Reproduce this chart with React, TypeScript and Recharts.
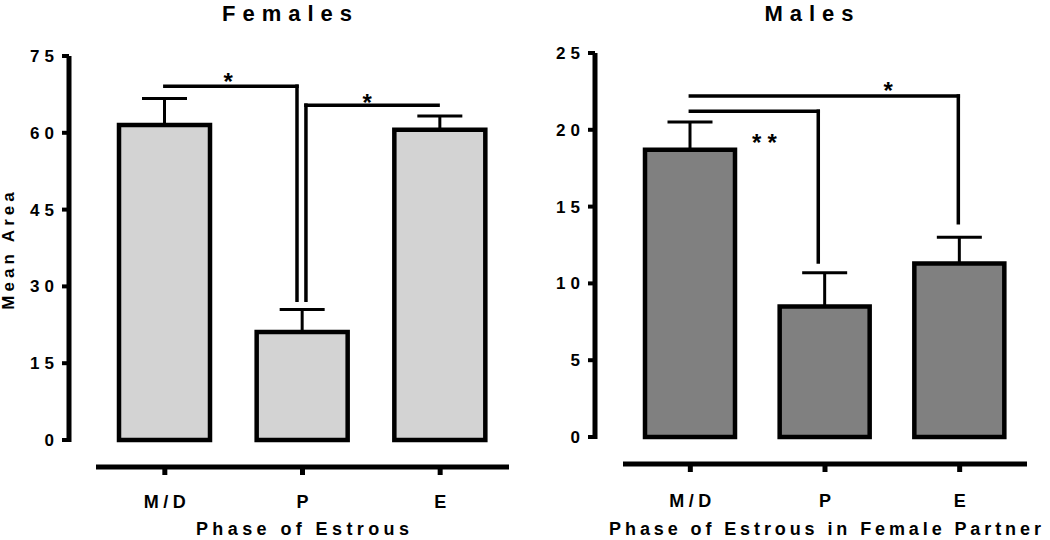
import React from 'react';
import { BarChart, Bar, XAxis, YAxis, ErrorBar, ReferenceLine, ReferenceDot } from 'recharts';

const FONT = '"Liberation Sans", Arial, Helvetica, sans-serif';

// categories
const phaseLabels = ['M/D', 'P', 'E'];
const phaseIndex = [0, 1, 2];

// Females
const femaleMeans = [61.5, 21.1, 60.6];
const femaleErrors = [5.2, 4.4, 2.7];
const femaleTicks = [0, 15, 30, 45, 60, 75];

// Males
const maleMeans = [18.7, 8.5, 11.3];
const maleErrors = [1.8, 2.2, 1.7];
const maleTicks = [0, 5, 10, 15, 20, 25];

// significance brackets (data units): horizontal from start to corner at top, then down to bottom
const femaleBracketStart = [0, 1.985];
const femaleBracketCorner = [0.96, 1.025];
const femaleBracketTop = [69.1, 65.4];
const femaleBracketBottom = [27.3, 27.3];
const femaleStarX = [0.46, 1.47];
const femaleStarY = [71.1, 67.0];
const femaleStarText = ['*', '*'];

const maleBracketStart = [0, 0];
const maleBracketCorner = [0.95, 1.99];
const maleBracketTop = [21.2, 22.2];
const maleBracketBottom = [11.4, 13.95];
const maleStarX = [0.55, 1.47];
const maleStarY = [19.5, 22.9];
const maleStarText = ['**', '*'];

type PanelProps = {
  means: number[];
  errors: number[];
  ticks: number[];
  fill: string;
  bStart: number[];
  bCorner: number[];
  bTop: number[];
  bBottom: number[];
  sX: number[];
  sY: number[];
  sText: string[];
  xTitle: string;
  xTitleLs: number;
  yTitle?: string;
  axisX: number;
  top: number;
  right: number;
  xAxisHeight: number;
  padLeft: number;
  padBottom: number;
  barSize: number;
  tickMargin: number;
};

const YTick = (props: any) => {
  const { x, y, payload } = props;
  return (
    <text x={x} y={y} dy={6} textAnchor="end" fontFamily={FONT} fontWeight="bold" fontSize={17} letterSpacing={5} fill="#000">
      {payload.value}
    </text>
  );
};

const XTick = (props: any) => {
  const { x, y, payload } = props;
  return (
    <text x={x + 2.25} y={y} dy={13} textAnchor="middle" fontFamily={FONT} fontWeight="bold" fontSize={18} letterSpacing={4.5} fill="#000">
      {phaseLabels[payload.value]}
    </text>
  );
};

function Panel(p: PanelProps) {
  const data = phaseIndex.map((i) => ({ idx: i, mean: p.means[i], err: [0, p.errors[i]] }));
  const plotHeight = 540 - p.top - p.xAxisHeight;
  const yLen = plotHeight - p.padBottom + 2;
  return (
    <BarChart width={525} height={540} data={data} margin={{ top: p.top, right: p.right, bottom: 0, left: 0 }}>
      <XAxis
        type="number"
        dataKey="idx"
        domain={[-0.5, 2.5]}
        ticks={phaseIndex}
        interval={0}
        padding={{ left: p.padLeft, right: 0 }}
        height={p.xAxisHeight}
        axisLine={{ stroke: '#000', strokeWidth: 5, strokeDasharray: `0 ${p.padLeft} 2000` }}
        tickLine={{ stroke: '#000', strokeWidth: 5 }}
        tickSize={8}
        tickMargin={p.tickMargin}
        tick={XTick}
        label={(lp: any) => {
          const vb = lp.viewBox || {};
          const cx = vb.x + p.padLeft + (vb.width - p.padLeft) / 2 + p.xTitleLs / 2;
          return (
            <text x={cx} y={535} textAnchor="middle" fontFamily={FONT} fontWeight="bold" fontSize={18} letterSpacing={p.xTitleLs} fill="#000">
              {p.xTitle}
            </text>
          );
        }}
      />
      <YAxis
        type="number"
        domain={[0, p.ticks[p.ticks.length - 1]]}
        ticks={p.ticks}
        interval={0}
        width={p.axisX}
        padding={{ top: 0, bottom: p.padBottom }}
        axisLine={{ stroke: '#000', strokeWidth: 5, strokeDasharray: `${yLen} 2000` }}
        tickLine={{ stroke: '#000', strokeWidth: 4 }}
        tickSize={7}
        tickMargin={3}
        tick={YTick}
        label={
          p.yTitle
            ? (lp: any) => {
                const vb = lp.viewBox || {};
                const cy = vb.y + (vb.height - p.padBottom) / 2 + 1;
                return (
                  <text
                    x={14}
                    y={cy}
                    transform={`rotate(-90, 14, ${cy})`}
                    textAnchor="middle"
                    fontFamily={FONT}
                    fontWeight="bold"
                    fontSize={17}
                    letterSpacing={4}
                    fill="#000"
                  >
                    {p.yTitle}
                  </text>
                );
              }
            : undefined
        }
      />
      <Bar dataKey="mean" fill={p.fill} stroke="#000" strokeWidth={4.5} barSize={p.barSize} isAnimationActive={false}>
        <ErrorBar dataKey="err" width={22.5} stroke="#000" strokeWidth={3} direction="y" isAnimationActive={false} />
      </Bar>
      {p.bStart.map((s, i) => (
        <ReferenceLine
          key={'h' + i}
          segment={[
            { x: s, y: p.bTop[i] },
            { x: p.bCorner[i], y: p.bTop[i] },
          ]}
          stroke="#000"
          strokeWidth={3.5}
          strokeLinecap="square"
        />
      ))}
      {p.bCorner.map((c, i) => (
        <ReferenceLine
          key={'v' + i}
          segment={[
            { x: c, y: p.bTop[i] },
            { x: c, y: p.bBottom[i] },
          ]}
          stroke="#000"
          strokeWidth={3.5}
          strokeLinecap="square"
        />
      ))}
      {p.sX.map((sx, i) => (
        <ReferenceDot
          key={'s' + i}
          x={sx}
          y={p.sY[i]}
          r={0}
          fill="none"
          stroke="none"
          label={(lp: any) => {
            const vb = lp.viewBox || {};
            const cx = vb.x + (vb.width || 0) / 2;
            const cy = vb.y + (vb.height || 0) / 2;
            const ls = p.sText[i].length > 1 ? 6 : 0;
            return (
              <text x={cx + ls / 2} y={cy + 13.7} textAnchor="middle" fontFamily={FONT} fontWeight="bold" fontSize={24} letterSpacing={ls} fill="#000">
                {p.sText[i]}
              </text>
            );
          }}
        />
      ))}
    </BarChart>
  );
}

export default function App() {
  return (
    <div style={{ position: 'absolute', left: 0, top: 0, width: 1050, height: 540, background: '#fff', overflow: 'hidden' }}>
      <div style={{ position: 'absolute', left: 0, top: 0 }}>
        <Panel
          means={femaleMeans}
          errors={femaleErrors}
          ticks={femaleTicks}
          fill="#d3d3d3"
          bStart={femaleBracketStart}
          bCorner={femaleBracketCorner}
          bTop={femaleBracketTop}
          bBottom={femaleBracketBottom}
          sX={femaleStarX}
          sY={femaleStarY}
          sText={femaleStarText}
          xTitle="Phase of Estrous"
          xTitleLs={4.4}
          yTitle="Mean Area"
          axisX={69}
          top={56}
          right={16}
          xAxisHeight={73}
          padLeft={27}
          padBottom={27}
          barSize={91}
          tickMargin={20}
        />
      </div>
      <div style={{ position: 'absolute', left: 525, top: 0 }}>
        <Panel
          means={maleMeans}
          errors={maleErrors}
          ticks={maleTicks}
          fill="#808080"
          bStart={maleBracketStart}
          bCorner={maleBracketCorner}
          bTop={maleBracketTop}
          bBottom={maleBracketBottom}
          sX={maleStarX}
          sY={maleStarY}
          sText={maleStarText}
          xTitle="Phase of Estrous in Female Partner"
          xTitleLs={3.9}
          axisX={70}
          top={53}
          right={23}
          xAxisHeight={76}
          padLeft={28}
          padBottom={27}
          barSize={90}
          tickMargin={22}
        />
      </div>
      <svg width={1050} height={540} style={{ position: 'absolute', left: 0, top: 0, pointerEvents: 'none' }}>
        <text x={287 + 3.5} y={21} textAnchor="middle" fontFamily={FONT} fontWeight="bold" fontSize={22} letterSpacing={7} fill="#000">
          Females
        </text>
        <text x={809 + 3.5} y={21} textAnchor="middle" fontFamily={FONT} fontWeight="bold" fontSize={22} letterSpacing={7} fill="#000">
          Males
        </text>
      </svg>
    </div>
  );
}
